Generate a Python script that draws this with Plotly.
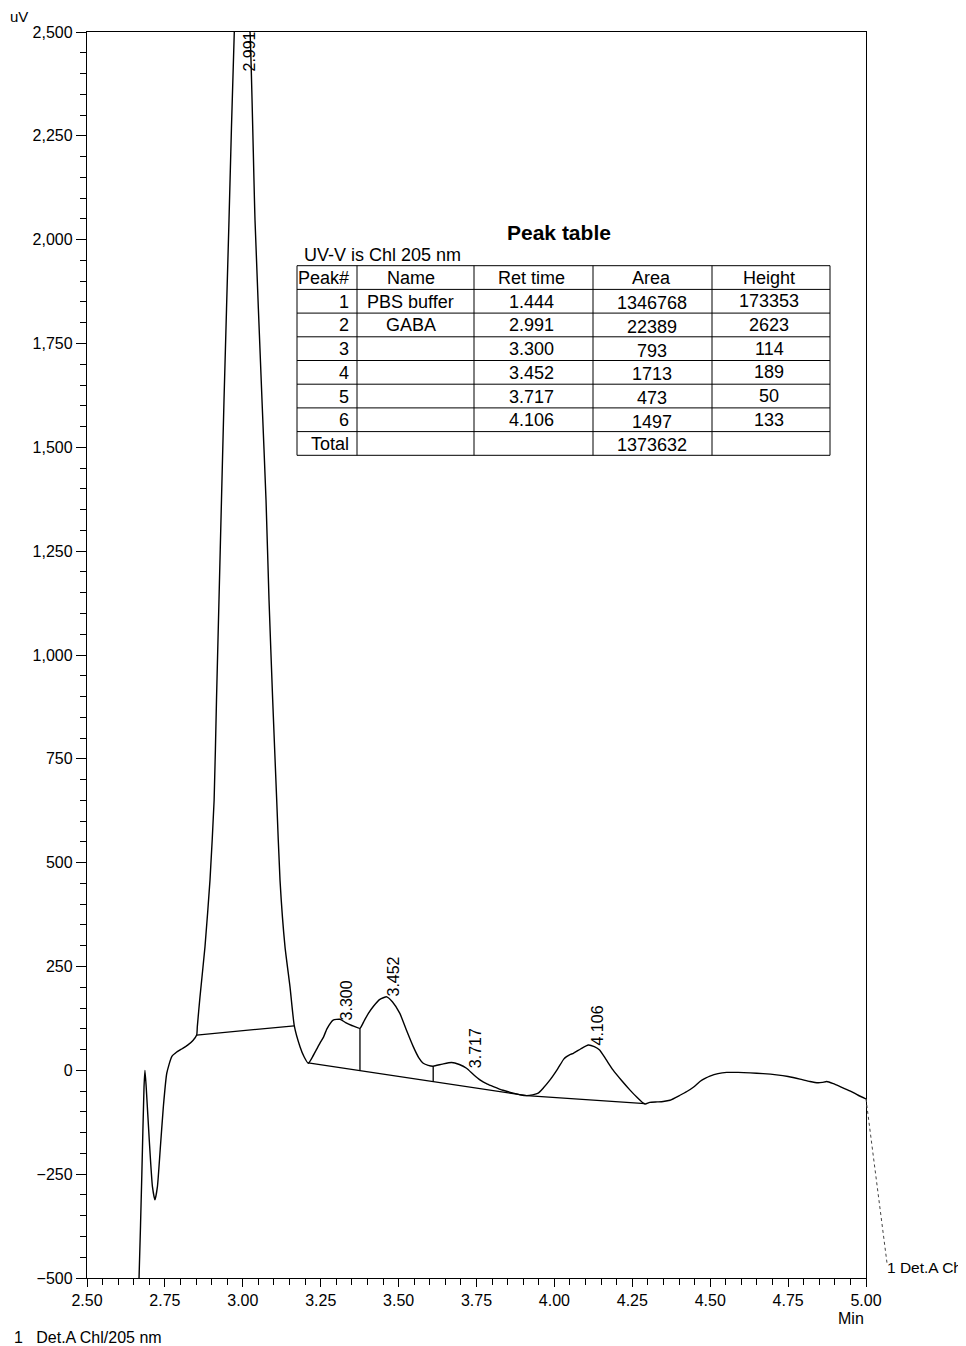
import plotly.graph_objects as go

# ---------------- data ----------------
time_min = [2.660, 2.667, 2.676, 2.683, 2.686, 2.690, 2.700, 2.710, 2.718, 2.726,
            2.735, 2.745, 2.756, 2.772, 2.788, 2.805, 2.822, 2.840, 2.852, 2.854,
            2.8626, 2.8787, 2.8947, 2.908, 2.9156, 2.9236, 2.9316, 2.9397, 2.9557, 2.9727,
            2.980, 2.991, 3.005, 3.015, 3.0231, 3.0392, 3.0616, 3.0745, 3.0841, 3.0959,
            3.1088, 3.1194, 3.1354, 3.1515, 3.1653, 3.1836, 3.197, 3.2102,
            3.222, 3.235, 3.248, 3.259, 3.270, 3.290, 3.312, 3.330, 3.350, 3.376,
            3.390, 3.403, 3.420, 3.440, 3.462, 3.480, 3.504, 3.525, 3.547, 3.565,
            3.579, 3.595, 3.611, 3.640, 3.670, 3.695, 3.718, 3.740, 3.761, 3.785,
            3.804, 3.835, 3.868, 3.890, 3.911, 3.930, 3.948, 3.965, 3.986, 4.010,
            4.030, 4.039, 4.050, 4.061, 4.085, 4.109, 4.128, 4.145, 4.165, 4.188,
            4.215, 4.242, 4.265, 4.285, 4.292, 4.306, 4.330, 4.349, 4.371, 4.403,
            4.425, 4.447, 4.467, 4.485, 4.499, 4.525, 4.553, 4.590, 4.628, 4.670,
            4.713, 4.750, 4.788, 4.820, 4.847, 4.860, 4.874, 4.895, 4.917, 4.950,
            4.975, 5.000]
signal_uv = [-600, -500, -250, -40, 0, -40, -170, -280, -312, -280,
             -190, -88, -7, 33, 44, 52, 60, 72, 85, 105,
             177, 298, 458, 651, 892, 1133, 1374, 1614, 2047, 2500,
             2575, 2623, 2600, 2550, 2500, 2047, 1614, 1374, 1133, 892,
             651, 458, 298, 201, 107, 57, 32, 17,
             30, 48, 66, 80, 100, 121, 123, 115, 108, 101,
             120, 137, 155, 171, 177, 165, 137, 97, 57, 30,
             17, 12, 10, 15, 19, 14, 5, -10, -23, -33,
             -39, -48, -55, -59, -61, -59, -55, -42, -23, 3,
             27, 33, 38, 41, 52, 61, 57, 49, 27, 1,
             -24, -47, -65, -79, -81, -77, -76, -75, -72, -60,
             -51, -40, -27, -19, -14, -8, -5, -5, -6, -8,
             -11, -15, -21, -27, -30, -29, -27, -32, -39, -50,
             -60, -69]

# integration baselines (pairs of points, None separates segments)
baseline_t = [2.852, 3.165, None, 3.210, 3.911, 4.291]
baseline_v = [85, 107, None, 18, -61, -80]
# perpendicular drop lines
drop_t = [3.376, 3.611]
drop_top = [101, 10]
drop_bottom = [-1, -27]

# peak labels
label_rt = [2.991, 3.300, 3.452, 3.717, 4.106]
label_y = [2453, 169, 225, 54, 109]

# peak table
table_cols = ["Peak#", "Name", "Ret time", "Area", "Height"]
peak_no = ["1", "2", "3", "4", "5", "6"]
peak_names = ["PBS buffer", "GABA", "", "", "", ""]
ret_times = ["1.444", "2.991", "3.300", "3.452", "3.717", "4.106"]
areas = [1346768, 22389, 793, 1713, 473, 1497]
heights = [173353, 2623, 114, 189, 50, 133]
total_area = 1373632

x_ticks = [2.50, 2.75, 3.00, 3.25, 3.50, 3.75, 4.00, 4.25, 4.50, 4.75, 5.00]
y_min, y_max = -500, 2500

FONT = "Liberation Sans, Arial, sans-serif"

fig = go.Figure()

fig.add_trace(go.Scatter(x=time_min, y=signal_uv, mode="lines",
                         line=dict(color="black", width=1.4, shape="spline", smoothing=0.5),
                         showlegend=False, hoverinfo="skip"))
fig.add_trace(go.Scatter(x=baseline_t, y=baseline_v, mode="lines",
                         line=dict(color="black", width=1.3),
                         showlegend=False, hoverinfo="skip"))
dx, dy = [], []
for t, a, b in zip(drop_t, drop_top, drop_bottom):
    dx += [t, t, None]
    dy += [a, b, None]
fig.add_trace(go.Scatter(x=dx, y=dy, mode="lines",
                         line=dict(color="black", width=1.3),
                         showlegend=False, hoverinfo="skip"))

annotations = []
for rt, ly in zip(label_rt, label_y):
    annotations.append(dict(x=rt, y=ly, xref="x", yref="y", text=f"{rt:.3f}",
                            showarrow=False, textangle=-90, xshift=10,
                            xanchor="center", yanchor="middle",
                            font=dict(size=16, color="black", family=FONT)))

# ---- peak table drawn with shapes + annotations (paper coords) ----
# reference-screen pixel -> paper helpers (plot area 87..866 x 32..1278)
plot_left, plot_w = 87, 779
plot_bottom, plot_h = 1278, 1246


def px_x(p):
    return (p - plot_left) / plot_w


def px_y(p):
    return (plot_bottom - p) / plot_h


col_edges = [297, 357, 474, 593, 712, 830]
col_text_dx = [0, -5, -2, -1, -2]     # small horizontal nudges per column
col_text_dy = [0, 0, 0, 1.5, -0.5]    # small vertical nudges per column (body rows)
row_top, row_h = 265.7, 23.7
rows = [table_cols]
for i in range(len(peak_no)):
    rows.append([peak_no[i], peak_names[i], ret_times[i], str(areas[i]), str(heights[i])])
rows.append(["Total", "", "", str(total_area), ""])
n_rows = len(rows)
row_bottom = row_top + n_rows * row_h

shapes = []
for r in range(n_rows + 1):
    yy = px_y(row_top + r * row_h)
    shapes.append(dict(type="line", xref="paper", yref="paper",
                       x0=px_x(col_edges[0]), x1=px_x(col_edges[-1]), y0=yy, y1=yy,
                       line=dict(color="black", width=1)))
for cx in col_edges:
    shapes.append(dict(type="line", xref="paper", yref="paper",
                       x0=px_x(cx), x1=px_x(cx), y0=px_y(row_top), y1=px_y(row_bottom),
                       line=dict(color="black", width=1)))

for r, row in enumerate(rows):
    for c, txt in enumerate(row):
        if not txt:
            continue
        ddy = col_text_dy[c] if r > 0 else 0
        yc = px_y(row_top + (r + 0.5) * row_h + 0.5 + ddy)
        if c == 0:
            annotations.append(dict(x=px_x(col_edges[1] - 6), y=yc, xref="paper", yref="paper",
                                    text=txt, showarrow=False, xanchor="right", yanchor="middle",
                                    font=dict(size=18, color="black", family=FONT)))
        else:
            xc = px_x((col_edges[c] + col_edges[c + 1]) / 2 + col_text_dx[c])
            annotations.append(dict(x=xc, y=yc, xref="paper", yref="paper",
                                    text=txt, showarrow=False, xanchor="center", yanchor="middle",
                                    font=dict(size=18, color="black", family=FONT)))

annotations.append(dict(x=px_x(559), y=px_y(232),
                        xref="paper", yref="paper", text="<b>Peak table</b>", showarrow=False,
                        xanchor="center", yanchor="middle",
                        font=dict(size=21, color="black", family=FONT)))
annotations.append(dict(x=px_x(302), y=px_y(255), xref="paper", yref="paper",
                        text="UV-V is Chl 205 nm", showarrow=False,
                        xanchor="left", yanchor="middle",
                        font=dict(size=18, color="black", family=FONT)))

# axis titles / detector labels
annotations.append(dict(x=px_x(8), y=px_y(17), xref="paper", yref="paper", text="uV",
                        showarrow=False, xanchor="left", yanchor="middle",
                        font=dict(size=15, color="black", family=FONT)))
annotations.append(dict(x=1.0, y=px_y(1318), xref="paper", yref="paper", text="Min",
                        showarrow=False, xanchor="right", yanchor="middle",
                        font=dict(size=16, color="black", family=FONT)))
annotations.append(dict(x=px_x(12), y=px_y(1337), xref="paper", yref="paper",
                        text="1\u00a0\u00a0\u00a0Det.A Chl/205 nm",
                        showarrow=False, xanchor="left", yanchor="middle",
                        font=dict(size=16, color="black", family=FONT)))
annotations.append(dict(x=px_x(885), y=px_y(1267), xref="paper", yref="paper",
                        text="1 Det.A Chl", showarrow=False, xanchor="left", yanchor="middle",
                        font=dict(size=15.5, color="black", family=FONT)))
# dotted leader from the trace end to the detector label
end_v = signal_uv[-1]
shapes.append(dict(type="line", xref="paper", yref="paper",
                   x0=1.0, y0=(end_v - y_min) / (y_max - y_min),
                   x1=px_x(887), y1=px_y(1263),
                   line=dict(color="#444", width=1, dash="dot")))

# page body has an 8px margin: figure is 958x1338 so the plot lands where the reference's is
fig.update_layout(
    width=958, height=1338,
    margin=dict(l=79, r=100, t=24, b=68),
    paper_bgcolor="white", plot_bgcolor="white",
    font=dict(family=FONT, size=16, color="black"),
    showlegend=False,
    annotations=annotations,
    shapes=shapes,
)
fig.update_xaxes(range=[2.5, 5.0], tickvals=x_ticks, ticktext=[f"{v:.2f}" for v in x_ticks],
                 showgrid=False, zeroline=False, showline=True, linecolor="black", linewidth=1.3,
                 mirror=True, ticks="outside", ticklen=8, tickwidth=1.2, tickcolor="black",
                 tickfont=dict(size=16, family=FONT, color="black"),
                 minor=dict(dtick=0.05, ticks="outside", ticklen=6, tickcolor="black", tickwidth=1.1))
fig.update_yaxes(range=[y_min, y_max], dtick=250, tick0=0, tickformat=",",
                 showgrid=False, zeroline=False, showline=True, linecolor="black", linewidth=1.3,
                 mirror=True, ticks="outside", ticklen=10, tickwidth=1.2, tickcolor="black",
                 tickfont=dict(size=16, family=FONT, color="black"),
                 minor=dict(dtick=50, ticks="outside", ticklen=6, tickcolor="black", tickwidth=1.1))

fig.write_html("out.html")
